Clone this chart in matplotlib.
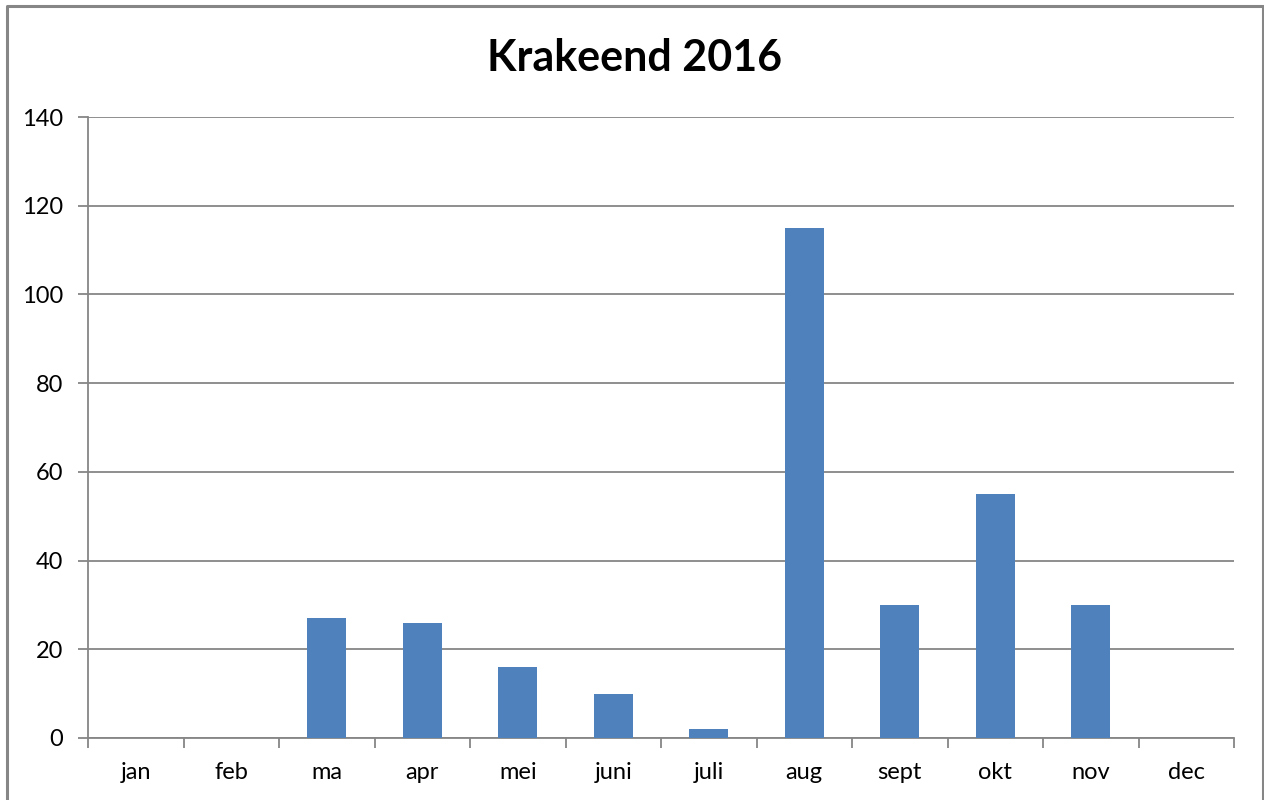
import matplotlib
matplotlib.use('Agg')
import matplotlib.pyplot as plt
from matplotlib.lines import Line2D

# maandtellingen krakeend 2016
months = ['jan', 'feb', 'ma', 'apr', 'mei', 'juni', 'juli', 'aug', 'sept', 'okt', 'nov', 'dec']
counts = [0, 0, 27, 26, 16, 10, 2, 115, 30, 55, 30, 0]

plt.rcParams['font.family'] = ['Lato', 'DejaVu Sans']
grey = '#868686'

fig = plt.figure(figsize=(12.64, 8), dpi=100)
ax = fig.add_axes([88 / 1264, 62 / 800, (1234 - 88) / 1264, (738 - 117) / 800])

x = range(len(months))
ax.bar(x, counts, width=0.41, color='#4f81bd', zorder=3)

ax.set_xlim(-0.5, len(months) - 0.5)
ax.set_ylim(0, 140)
ax.set_yticks(range(0, 141, 20))
ax.yaxis.grid(True, color=grey, linewidth=1.3, zorder=0)

# tick marks between categories, labels centred
ax.set_xticks([i - 0.5 for i in range(len(months) + 1)])
ax.set_xticklabels([])
ax.set_xticks(list(x), minor=True)
ax.set_xticklabels(months, minor=True)
ax.tick_params(axis='x', which='minor', length=0, pad=17, labelsize=17)
ax.tick_params(axis='x', which='major', length=7, width=1.3, color=grey, direction='out')
ax.tick_params(axis='y', length=7, width=1.3, color=grey, labelsize=17, pad=11)

for side in ['top', 'right']:
    ax.spines[side].set_visible(False)
for side in ['left', 'bottom']:
    ax.spines[side].set_color(grey)
    ax.spines[side].set_linewidth(1.3)

fig.suptitle('Krakeend 2016', x=634.5 / 1264, y=1 - 58 / 800, va='center',
             fontsize=31, fontweight='bold')

# rand om de grafiek
bx0, bx1, by = 7 / 1264, 1262.5 / 1264, 1 - 6 / 800
fig.add_artist(Line2D([bx0, bx0, bx1, bx1], [0, by, by, 0], transform=fig.transFigure,
                      color=grey, linewidth=2.2))

fig.savefig('out.png', dpi=100)
